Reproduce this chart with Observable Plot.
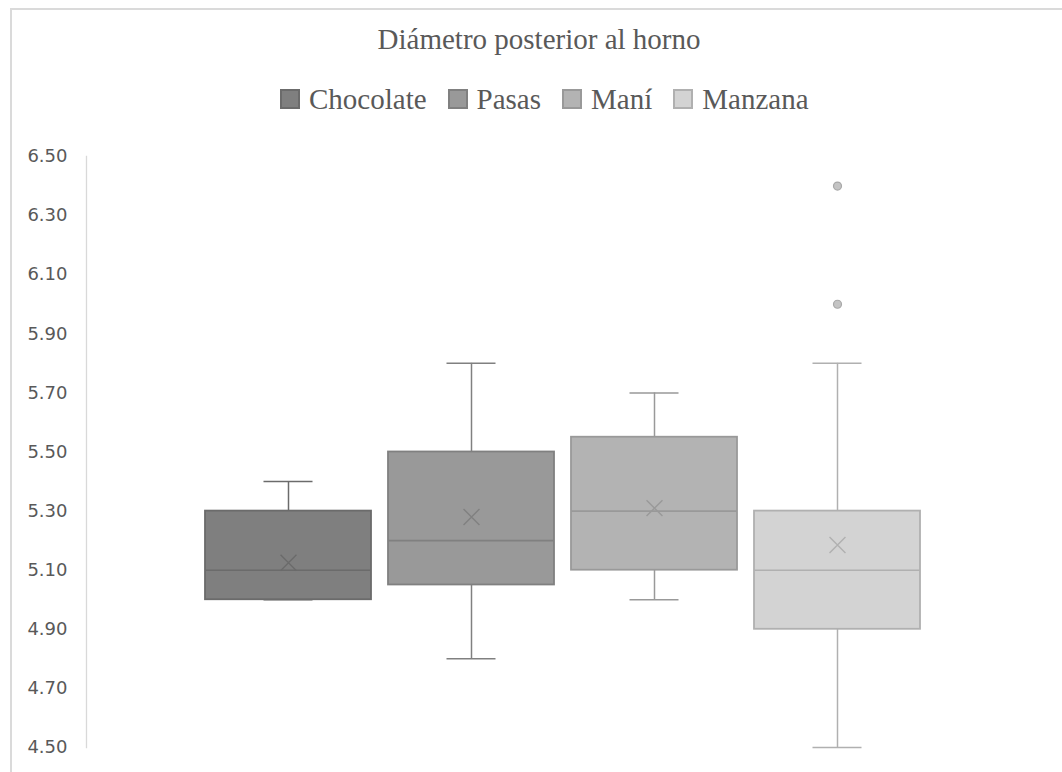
<!DOCTYPE html>
<html>
<head>
<meta charset="utf-8">
<script src="https://cdn.jsdelivr.net/npm/d3@7"></script>
<script src="https://cdn.jsdelivr.net/npm/@observablehq/plot@0.6"></script>
<style>
  html, body { margin: 0; padding: 0; background: #fff; }
  #wrap { position: relative; width: 1062px; height: 772px; overflow: hidden; background: #fff; }
  #border { position: absolute; left: 10px; top: 8px; width: 1100px; height: 800px; border: 2px solid #dadada; box-sizing: border-box; }
  #title { position: absolute; left: 539px; top: 22px; transform: translateX(-50%); white-space: nowrap;
           font-family: "Liberation Serif", "Times New Roman", serif; font-size: 29px; color: #595959; line-height: 34px; }
  #legend { position: absolute; left: 280px; top: 84px; display: flex; align-items: center; white-space: nowrap;
            font-family: "Liberation Serif", "Times New Roman", serif; font-size: 29px; color: #595959; line-height: 30px; }
  .item { display: flex; align-items: center; margin-right: 21px; }
  .item:last-child { margin-right: 0; }
  .sw { width: 20px; height: 20px; box-sizing: border-box; border: 2px solid; margin-right: 9px; }
  #chart { position: absolute; left: 0; top: 0; }
</style>
</head>
<body>
<div id="wrap">
  <div id="border"></div>
  <div id="chart"></div>
  <div id="title"></div>
  <div id="legend"></div>
</div>
<script>
// ---- data ----
const titleText = "Diámetro posterior al horno";
const series = ["Chocolate", "Pasas", "Maní", "Manzana"];
const q1 = [5.00, 5.05, 5.10, 4.90];
const median = [5.10, 5.20, 5.30, 5.10];
const q3 = [5.30, 5.50, 5.55, 5.30];
const whiskerLow = [5.00, 4.80, 5.00, 4.50];
const whiskerHigh = [5.40, 5.80, 5.70, 5.80];
const mean = [5.125, 5.28, 5.31, 5.185];
const outlierSeries = ["Manzana", "Manzana"];
const outlierValues = [6.40, 6.00];
const yTicks = [4.50, 4.70, 4.90, 5.10, 5.30, 5.50, 5.70, 5.90, 6.10, 6.30, 6.50];

// ---- palette ----
const fillColors = ["#7f7f7f", "#999999", "#b3b3b3", "#d3d3d3"];
const strokeColors = ["#6b6b6b", "#808080", "#999999", "#b0b0b0"];

const rows = series.map((s, i) => ({
  series: s, q1: q1[i], median: median[i], q3: q3[i],
  lo: whiskerLow[i], hi: whiskerHigh[i], mean: mean[i],
  fill: fillColors[i], stroke: strokeColors[i]
}));
const outliers = outlierSeries.map((s, i) => ({series: s, value: outlierValues[i]}));

document.getElementById("title").textContent = titleText;
const legend = document.getElementById("legend");
series.forEach((s, i) => {
  const it = document.createElement("div");
  it.className = "item";
  const sw = document.createElement("div");
  sw.className = "sw";
  sw.style.background = fillColors[i];
  sw.style.borderColor = strokeColors[i];
  const tx = document.createElement("span");
  tx.textContent = s;
  it.appendChild(sw); it.appendChild(tx);
  legend.appendChild(it);
});

const chart = Plot.plot({
  width: 1062,
  height: 772,
  marginTop: 156,
  marginBottom: 25,
  marginLeft: 86,
  marginRight: 23,
  style: {fontFamily: "DejaVu Sans", fontSize: "18px", color: "#595959", background: "transparent"},
  x: {domain: series, paddingInner: 0.093, paddingOuter: 0.65, axis: null},
  y: {domain: [4.5, 6.5], axis: null},
  color: {type: "identity"},
  marks: [
    Plot.frame({anchor: "left", stroke: "#d9d9d9", strokeWidth: 1.3}),
    Plot.axisY({ticks: yTicks, tickFormat: d3.format(".2f"), tickSize: 0, tickPadding: 19, fill: "#595959"}),
    // whiskers
    Plot.ruleX(rows, {x: "series", y1: "lo", y2: "q1", stroke: "stroke", strokeWidth: 1.5}),
    Plot.ruleX(rows, {x: "series", y1: "q3", y2: "hi", stroke: "stroke", strokeWidth: 1.5}),
    Plot.tickY(rows, {x: "series", y: "lo", stroke: "stroke", strokeWidth: 1.5, insetLeft: 58.5, insetRight: 58.5}),
    Plot.tickY(rows, {x: "series", y: "hi", stroke: "stroke", strokeWidth: 1.5, insetLeft: 58.5, insetRight: 58.5}),
    // boxes
    Plot.barY(rows, {x: "series", y1: "q1", y2: "q3", fill: "fill", stroke: "stroke", strokeWidth: 1.8}),
    Plot.tickY(rows, {x: "series", y: "median", stroke: "stroke", strokeWidth: 1.6}),
    // means
    Plot.dot(rows, {x: "series", y: "mean", symbol: "times", r: 7.3, stroke: "stroke", strokeWidth: 1.4}),
    // outliers
    Plot.dot(outliers, {x: "series", y: "value", r: 4, fill: "#c4c4c4", stroke: "#a8a8a8", strokeWidth: 1.2})
  ]
});
document.getElementById("chart").appendChild(chart);
</script>
</body>
</html>
